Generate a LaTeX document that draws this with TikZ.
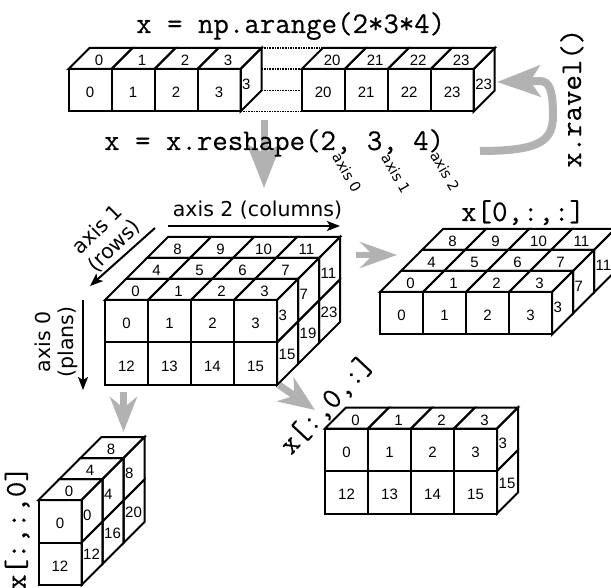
\documentclass[tikz,border=0pt]{standalone}
\usepackage{fontspec}
\newfontfamily\numfont{Liberation Sans}
\newfontfamily\labfont{DejaVu Sans}
\newfontfamily\codefont[FakeBold=0.4]{Latin Modern Mono}
\usetikzlibrary{arrows.meta}
\def\cellw{43}
\def\cellh{42.5}
\def\dep{21}
\tikzset{
 edge/.style={line width=2pt, line join=miter},
 num/.style={font={\numfont\fontsize{15pt}{15pt}\selectfont}, inner sep=0pt},
 code/.style={font={\codefont\fontsize{30pt}{30pt}\selectfont}, inner sep=0pt},
 axlab/.style={font={\labfont\fontsize{20.5pt}{23pt}\selectfont}, inner sep=0pt, align=center},
 smalllab/.style={font={\labfont\fontsize{14.5pt}{15pt}\selectfont}, inner sep=0pt},
 axarrow/.style={line width=2pt, -{Stealth[length=13pt,width=10pt,inset=3pt]}},
 grayarrow/.style={draw=black!30, line width=7pt},
 dots/.style={line width=1.6pt, densely dotted},
}
% #1 x, #2 y (front top-left), #3 columns, #4 rows, #5 depth, #6 base value
\newcommand\npcube[6]{%
 \pgfmathtruncatemacro\ncm{#3-1}%
 \pgfmathtruncatemacro\nrm{#4-1}%
 \pgfmathtruncatemacro\ndm{#5-1}%
 \foreach \pp in {0,...,\nrm}{%
  \foreach \cc in {0,...,\ncm}{%
   \pgfmathtruncatemacro\cubeval{#6+12*\pp+\cc}%
   \draw[edge] ({#1+\cc*\cellw},{#2+\pp*\cellh}) rectangle ++(\cellw,\cellh);
   \node[num] at ({#1+(\cc+0.5)*\cellw},{#2+(\pp+0.5)*\cellh+2.5}) {\cubeval};
  }}%
 \foreach \rr in {0,...,\ndm}{%
  \foreach \cc in {0,...,\ncm}{%
   \pgfmathtruncatemacro\cubeval{#6+4*\rr+\cc}%
   \draw[edge] ({#1+\cc*\cellw+\rr*\dep},{#2-\rr*\dep}) -- ++(\cellw,0) -- ++(\dep,-\dep) -- ++(-\cellw,0) -- cycle;
   \node[num] at ({#1+(\cc+0.5)*\cellw+(\rr+0.5)*\dep-1.5},{#2-(\rr+0.5)*\dep+2}) {\cubeval};
  }}%
 \foreach \rr in {0,...,\ndm}{%
  \foreach \pp in {0,...,\nrm}{%
   \pgfmathtruncatemacro\cubeval{#6+12*\pp+4*\rr+\ncm}%
   \draw[edge] ({#1+#3*\cellw+\rr*\dep},{#2+\pp*\cellh-\rr*\dep}) -- ++(\dep,-\dep) -- ++(0,\cellh) -- ++(-\dep,\dep) -- cycle;
   \node[num,anchor=west] at ({#1+#3*\cellw+\rr*\dep+1.5},{#2+(\pp+0.5)*\cellh-\rr*\dep-6-3*\pp}) {\cubeval};
  }}%
}
\begin{document}
\begin{tikzpicture}[x=1pt,y=-1pt]
\useasboundingbox (0,0) rectangle (611,588);
% gray arrows
\draw[grayarrow, -{Stealth[length=43pt,width=33pt,inset=8pt]}] (264,120) -- (264,188);
\draw[grayarrow, line width=6pt, -{Stealth[length=37pt,width=26pt,inset=13pt]}] (356,255) -- (397,255);
\draw[grayarrow, -{Stealth[length=35pt,width=27pt,inset=11pt]}] (123.5,392) -- (123.5,432);
\draw[grayarrow, -{Stealth[length=36pt,width=29pt,inset=11pt]}] (279,385) -- (315,410);
\draw[grayarrow, line width=8pt, -{Stealth[length=43pt,width=31pt,inset=10pt]}]
  (480,151) .. controls (542,151) and (553,140) .. (553,115)
  .. controls (553,92) and (550,81) .. (540,81) -- (497,82);
% row cubes
\npcube{68.5}{69}{4}{1}{1}{0}
\npcube{301.7}{69}{4}{1}{1}{20}
\draw[dots] (261.5,48) -- (322.7,48);
\draw[dots] (261.5,69) -- (301.7,69);
\draw[dots] (261.5,90.5) -- (301.7,90.5);
\draw[dots] (240.5,111.5) -- (301.7,111.5);
% main cube and slices
\npcube{105}{300}{4}{2}{3}{0}
\npcube{380}{292}{4}{1}{3}{0}
\npcube{325}{428.5}{4}{2}{1}{0}
\npcube{38.5}{500}{1}{2}{3}{0}
% code texts
\node[code, anchor=base west] (arange) at (136,33) {x = np.arange(2*3*4)};
\node[code, anchor=base west] (reshape) at (104,150) {x = x.reshape(2, 3, 4)};
\node[code, anchor=base west] (s0) at (461,221) {x[0,:,:]};
\node[code, anchor=base west, rotate=90] (ravel) at (581,168) {x.ravel()};
\node[code, anchor=base west, rotate=47] (s1) at (291,456) {x[:,0,:]};
\node[code, anchor=base west, rotate=90] (s2) at (25.5,590) {x[:,:,0]};
% small axis labels
\node[smalllab, rotate=-60] (a0) at (347,172.5) {axis 0};
\node[smalllab, rotate=-60] (a1) at (396,173.5) {axis 1};
\node[smalllab, rotate=-60] (a2) at (445,171) {axis 2};
% axis labels and arrows
\node[axlab, anchor=base] (lab2) at (257.5,217) {axis 2 (columns)};
\node[axlab, rotate=45] (lab1) at (106,238) {axis 1\\(rows)};
\node[axlab, rotate=90] (lab0) at (56,342) {axis 0\\(plans)};
\draw[axarrow] (168,226) -- (340,226);
\draw[axarrow] (155,228) -- (90,286);
\draw[axarrow] (83,300) -- (83,390);
\end{tikzpicture}
\end{document}
